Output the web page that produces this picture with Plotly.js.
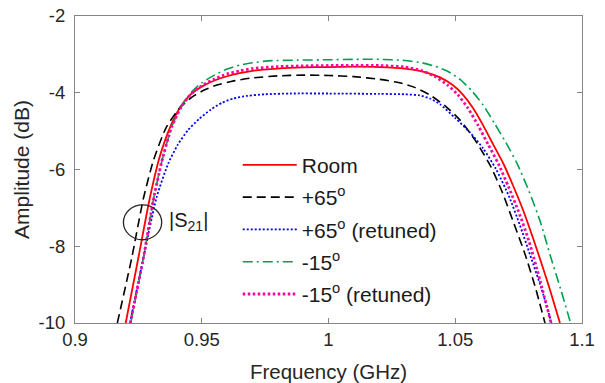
<!DOCTYPE html>
<html>
<head>
<meta charset="utf-8">
<script src="https://cdn.plot.ly/plotly-3.0.1.min.js"></script>
<style>html,body{margin:0;padding:0;background:#fff;}#chart{width:605px;height:383px;}</style>
</head>
<body>
<div id="chart"></div>
<script>
// ---- data (frequency in GHz, amplitude in dB) ----
const seriesNames = ["Room", "+65<sup>o</sup>", "+65<sup>o</sup> (retuned)", "-15<sup>o</sup>", "-15<sup>o</sup> (retuned)"];

const freqRoom = [0.9200, 0.9250, 0.9295, 0.9335, 0.9375, 0.9415, 0.9455, 0.9500, 0.9550, 0.9600, 0.9650, 0.9700, 0.9800, 0.9900, 1.0000, 1.0100, 1.0200, 1.0300, 1.0380, 1.0440, 1.0490, 1.0530, 1.0570, 1.0610, 1.0650, 1.0690, 1.0730, 1.0770, 1.0810, 1.0865, 1.0913];
const ampRoom  = [-10, -8.30, -6.75, -5.65, -4.90, -4.38, -4.05, -3.84, -3.68, -3.57, -3.49, -3.43, -3.37, -3.34, -3.33, -3.32, -3.33, -3.37, -3.46, -3.60, -3.80, -4.05, -4.40, -4.85, -5.35, -5.85, -6.45, -7.10, -7.85, -8.95, -10];

const freqHot = [0.9167, 0.9224, 0.9270, 0.9310, 0.9360, 0.9410, 0.9460, 0.9510, 0.9560, 0.9620, 0.9690, 0.9800, 0.9900, 1.0000, 1.0100, 1.0200, 1.0280, 1.0340, 1.0400, 1.0460, 1.0520, 1.0580, 1.0640, 1.0686, 1.0730, 1.0775, 1.0815, 1.0854];
const ampHot  = [-10, -8.30, -6.75, -5.75, -4.90, -4.42, -4.12, -3.93, -3.80, -3.70, -3.62, -3.56, -3.54, -3.55, -3.58, -3.65, -3.74, -3.86, -4.06, -4.34, -4.72, -5.25, -5.92, -6.60, -7.38, -8.20, -9.05, -10];

const freqHotRet = [0.9217, 0.9270, 0.9322, 0.9368, 0.9405, 0.9445, 0.9490, 0.9535, 0.9580, 0.9625, 0.9680, 0.9750, 0.9850, 1.0000, 1.0200, 1.0300, 1.0360, 1.0400, 1.0440, 1.0500, 1.0560, 1.0610, 1.0660, 1.0712, 1.0755, 1.0795, 1.0840, 1.0880];
const ampHotRet  = [-10, -8.30, -6.72, -5.84, -5.36, -4.98, -4.68, -4.44, -4.26, -4.15, -4.08, -4.04, -4.02, -4.02, -4.03, -4.04, -4.07, -4.15, -4.30, -4.66, -5.05, -5.45, -5.98, -6.70, -7.45, -8.22, -9.10, -10];

const freqCold = [0.9220, 0.9270, 0.9309, 0.9342, 0.9381, 0.9420, 0.9460, 0.9500, 0.9550, 0.9600, 0.9650, 0.9700, 0.9760, 0.9880, 1.0000, 1.0100, 1.0200, 1.0300, 1.0370, 1.0420, 1.0470, 1.0520, 1.0565, 1.0610, 1.0655, 1.0700, 1.0745, 1.0790, 1.0835, 1.0875, 1.0915, 1.0955];
const ampCold  = [-10, -8.30, -6.80, -5.80, -4.90, -4.35, -3.98, -3.74, -3.54, -3.38, -3.28, -3.22, -3.17, -3.15, -3.14, -3.13, -3.13, -3.16, -3.22, -3.31, -3.44, -3.66, -3.95, -4.32, -4.80, -5.30, -5.86, -6.55, -7.35, -8.25, -9.10, -10];

const freqColdRet = [0.9218, 0.9270, 0.9309, 0.9342, 0.9381, 0.9420, 0.9458, 0.9500, 0.9550, 0.9600, 0.9650, 0.9700, 0.9800, 0.9900, 1.0000, 1.0100, 1.0200, 1.0300, 1.0370, 1.0420, 1.0470, 1.0510, 1.0550, 1.0590, 1.0630, 1.0670, 1.0710, 1.0750, 1.0790, 1.0835, 1.0878];
const ampColdRet  = [-10, -8.30, -6.80, -5.80, -4.90, -4.36, -4.03, -3.82, -3.64, -3.51, -3.43, -3.37, -3.32, -3.30, -3.29, -3.29, -3.29, -3.33, -3.43, -3.58, -3.80, -4.05, -4.40, -4.85, -5.35, -5.85, -6.45, -7.10, -7.85, -8.90, -10];

const xTickVals = [0.9, 0.95, 1, 1.05, 1.1];
const xTickText = ["0.9", "0.95", "1", "1.05", "1.1"];
const yTickVals = [-10, -8, -6, -4, -2];
const yTickText = ["-10", "-8", "-6", "-4", "-2"];

// annotation: ellipse around the |S21| curves
const markerEllipseX = [0.9191, 0.9342];
const markerEllipseY = [-7.83, -6.92];
const labelPos = [0.9364, -7.36];

const FONT = "Arial, 'Liberation Sans', Helvetica, sans-serif";

function tr(x, y, name, color, width, dash, grp) {
  return {x: x, y: y, name: name, type: "scatter", mode: "lines", legendgroup: grp,
          line: {color: color, width: width, dash: dash, shape: "spline", smoothing: 0.6}};
}

const data = [
  tr(freqRoom, ampRoom, seriesNames[0], "#ff0000", 1.8, "solid", "a"),
  tr(freqHot, ampHot, seriesNames[1], "#000000", 1.6, "9px,5px", "b"),
  tr(freqHotRet, ampHotRet, seriesNames[2], "#0000ff", 1.8, "2px,2px", "c"),
  tr(freqCold, ampCold, seriesNames[3], "#00a050", 1.6, "10px,4px,2px,4px", "d"),
  tr(freqColdRet, ampColdRet, seriesNames[4], "#ff00a0", 2.8, "2.5px,2.5px", "e")
];

const axisCommon = {
  showgrid: false, zeroline: false, showline: true, linecolor: "#858585", linewidth: 1,
  mirror: "allticks", ticks: "inside", ticklen: 5, tickwidth: 1, tickcolor: "#858585",
  tickfont: {family: FONT, size: 18.5, color: "#262626"}
};

const layout = {
  width: 605, height: 383,
  margin: {l: 75, r: 23, t: 16, b: 60, pad: 0},
  paper_bgcolor: "#ffffff", plot_bgcolor: "#ffffff",
  showlegend: true,
  legend: {x: 0.321, y: 0.581, xanchor: "left", yanchor: "top", bgcolor: "rgba(0,0,0,0)",
           borderwidth: 0, font: {family: FONT, size: 21, color: "#1a1a1a"},
           itemwidth: 54, tracegroupgap: 2},
  xaxis: Object.assign({}, axisCommon, {
    range: [0.9, 1.1], tickmode: "array", tickvals: xTickVals, ticktext: xTickText,
    ticklabelstandoff: 0,
    title: {text: "Frequency (GHz)", font: {family: FONT, size: 20.5, color: "#262626"}, standoff: 15}
  }),
  yaxis: Object.assign({}, axisCommon, {
    range: [-10, -2], tickmode: "array", tickvals: yTickVals, ticktext: yTickText,
    ticklabelstandoff: 5,
    title: {text: "Amplitude (dB)", font: {family: FONT, size: 21, color: "#262626"}, standoff: 3}
  }),
  shapes: [{type: "circle", xref: "x", yref: "y",
            x0: markerEllipseX[0], x1: markerEllipseX[1], y0: markerEllipseY[0], y1: markerEllipseY[1],
            line: {color: "#262626", width: 1.3}}],
  annotations: [{x: labelPos[0], y: labelPos[1], xref: "x", yref: "y", xanchor: "left", yanchor: "middle",
                 text: "|S<sub>21</sub>|", showarrow: false,
                 font: {family: FONT, size: 20, color: "#1a1a1a"}}]
};

Plotly.newPlot("chart", data, layout, {staticPlot: true, displayModeBar: false});
</script>
</body>
</html>
